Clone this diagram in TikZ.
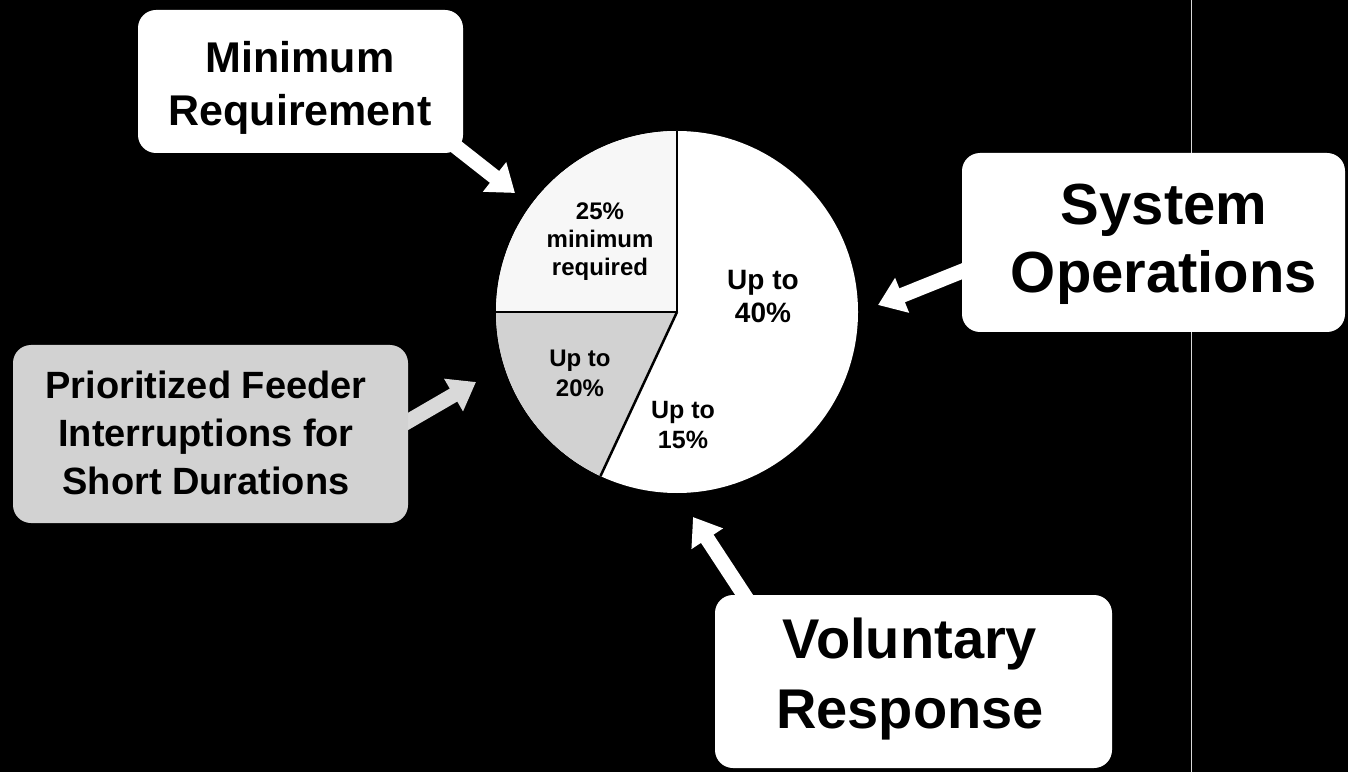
\documentclass[tikz,border=0pt]{standalone}
\usepackage{fontspec}
\setmainfont{Liberation Sans}
\usetikzlibrary{arrows.meta}
\begin{document}
\begin{tikzpicture}[x=1pt,y=1pt,
  box/.style={draw=none, fill=white, rounded corners=18pt, inner sep=0pt},
  grbox/.style={box, fill=gray!35},
  txt/.style={align=center, font=\bfseries, inner sep=0pt, text=black},
  blockarrow/.style={line width=15pt, -{Triangle[width=36pt,length=26pt]}, draw=white},
]
\fill[black] (0,0) rectangle (1348,772);
\useasboundingbox (0,0) rectangle (1348,772);
% faint scan line
\draw[gray!30, line width=0.6pt] (1191,772) -- (1191,0);

% pie chart
\coordinate (c) at (677,460);
\fill[white] (c) circle (181);
\fill[gray!6] (c) -- ++(90:181) arc[start angle=90, end angle=180, radius=181] -- cycle;
\fill[gray!35] (c) -- ++(180:181) arc[start angle=180, end angle=245, radius=181] -- cycle;
\draw[black, line width=1.5pt] (c) -- ++(90:181);
\draw[black, line width=1.5pt] (c) -- ++(180:181);
\draw[black, line width=2.5pt] (c) -- ++(245:181);

\node[txt, font=\bfseries\fontsize{24pt}{28pt}\selectfont] (s25) at (600,530) {25\%\\minimum\\required};
\node[txt, font=\bfseries\fontsize{28pt}{33pt}\selectfont] (s40) at (763,475) {Up to\\40\%};
\node[txt, font=\bfseries\fontsize{24pt}{30pt}\selectfont] (s20) at (580,399) {Up to\\20\%};
\node[txt, font=\bfseries\fontsize{25pt}{30pt}\selectfont] (s15) at (683,347) {Up to\\15\%};

% arrow coordinates
\coordinate (minfrom) at (445,634);
\coordinate (mintip) at (515,579);
\coordinate (prifrom) at (395,343);
\coordinate (pritip) at (476,390);
\coordinate (sysfrom) at (975,506);
\coordinate (systip) at (878,467);
\coordinate (volfrom) at (752,165);
\coordinate (voltip) at (693,255);

\draw[blockarrow] (minfrom) -- (mintip);
\draw[blockarrow, draw=gray!30, fill=gray!30] (prifrom) -- (pritip);
\draw[blockarrow] (sysfrom) -- (systip);
\draw[blockarrow] (volfrom) -- (voltip);

% boxes
\node[box, minimum width=325pt, minimum height=143pt] (minbox) at (300.5,690.5) {};
\node[grbox, minimum width=395pt, minimum height=178pt] (pribox) at (210.5,338) {};
\node[box, minimum width=383pt, minimum height=179pt] (sysbox) at (1153.5,529.5) {};
\node[box, minimum width=397pt, minimum height=173pt] (volbox) at (913.5,90.5) {};

\node[txt, font=\bfseries\fontsize{43pt}{53pt}\selectfont] (mintxt) at (300,684) {Minimum\\Requirement};
\node[txt, font=\bfseries\fontsize{38pt}{48pt}\selectfont] (pritxt) at (206,339) {Prioritized Feeder\\Interruptions for\\Short Durations};
\node[txt, font=\bfseries\fontsize{58pt}{68pt}\selectfont] (systxt) at (1164,528) {System\\Operations};
\node[txt, font=\bfseries\fontsize{56pt}{70pt}\selectfont] (voltxt) at (910,93) {Voluntary\\Response};
\end{tikzpicture}
\end{document}
